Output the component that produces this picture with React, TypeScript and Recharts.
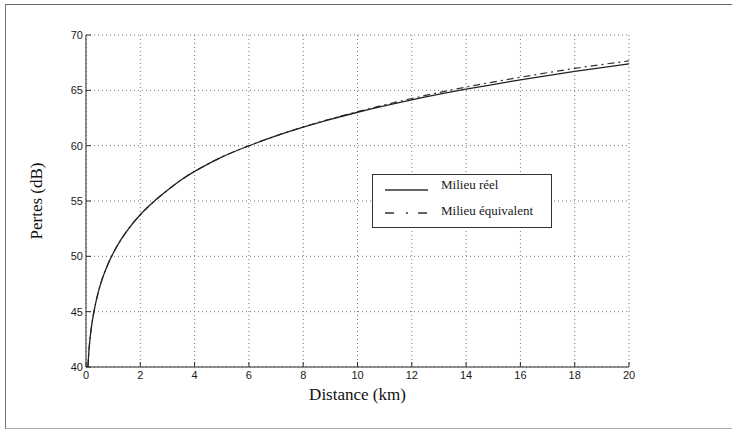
import React from 'react';
import { LineChart, Line, XAxis, YAxis, CartesianGrid, Legend } from 'recharts';

const distanceKm = [0.07, 0.1, 0.15, 0.2, 0.3, 0.45, 0.6, 0.8, 1, 1.3, 1.6, 2, 2.5, 3, 3.5, 4, 4.5, 5, 6, 7, 8, 9, 10, 12, 14, 16, 18, 20];
const lossReal = [40.0, 41.2, 42.6, 43.6, 45.1, 46.75, 47.98, 49.25, 50.28, 51.55, 52.6, 53.76, 54.95, 55.97, 56.9, 57.68, 58.35, 58.97, 59.99, 60.88, 61.67, 62.38, 63.02, 64.14, 65.1, 65.95, 66.71, 67.4];
const lossEquiv = [40.0, 41.2, 42.6, 43.6, 45.1, 46.75, 47.98, 49.25, 50.28, 51.55, 52.6, 53.76, 54.95, 55.97, 56.9, 57.68, 58.35, 58.97, 59.99, 60.89, 61.69, 62.41, 63.07, 64.26, 65.3, 66.18, 66.98, 67.66];
const xTicks = [0, 2, 4, 6, 8, 10, 12, 14, 16, 18, 20];
const yTicks = [40, 45, 50, 55, 60, 65, 70];
const seriesNames = ['Milieu réel', 'Milieu équivalent'];

const data = distanceKm.map((d, i) => ({ d, real: lossReal[i], equiv: lossEquiv[i] }));

const AXIS = '#2a2a2a';
const TICK_FONT = { fontFamily: '"Liberation Sans", Arial, sans-serif', fontSize: 11, fill: '#1a1a1a' };

const BottomTick = (p: any) => (
  <g>
    <line x1={p.x} x2={p.x} y1={p.y} y2={p.y - 5} stroke={AXIS} strokeWidth={1} />
    <text x={p.x} y={p.y + 12} textAnchor="middle" {...TICK_FONT}>{p.payload.value}</text>
  </g>
);
const TopTick = (p: any) => (
  <line x1={p.x} x2={p.x} y1={p.y} y2={p.y + 5} stroke={AXIS} strokeWidth={1} />
);
const LeftTick = (p: any) => (
  <g>
    <line x1={p.x} x2={p.x + 5} y1={p.y} y2={p.y} stroke={AXIS} strokeWidth={1} />
    <text x={p.x - 3} y={p.y + 4} textAnchor="end" {...TICK_FONT}>{p.payload.value}</text>
  </g>
);
const RightTick = (p: any) => (
  <line x1={p.x} x2={p.x - 5} y1={p.y} y2={p.y} stroke={AXIS} strokeWidth={1} />
);

const LegendBox = () => (
  <div
    style={{
      width: 180,
      height: 54,
      border: '1px solid #333',
      background: '#fff',
      boxSizing: 'border-box',
      fontFamily: '"Liberation Serif", "Times New Roman", serif',
      fontSize: 13,
      color: '#1a1a1a',
      position: 'relative',
    }}
  >
    <svg width={60} height={54} style={{ position: 'absolute', left: 0, top: 0 }}>
      <line x1={12} x2={55} y1={15} y2={15} stroke="#333" strokeWidth={1.3} />
      <line x1={12} x2={55} y1={38} y2={38} stroke="#333" strokeWidth={1.3} strokeDasharray="9 12 2 10" />
    </svg>
    <div style={{ position: 'absolute', left: 68, top: 2, whiteSpace: 'nowrap' }}>{seriesNames[0]}</div>
    <div style={{ position: 'absolute', left: 68, top: 28, whiteSpace: 'nowrap' }}>{seriesNames[1]}</div>
  </div>
);

const YTitle = (props: any) => {
  const vb = props.viewBox;
  return (
    <text
      x={vb.x - 4}
      y={vb.y + vb.height / 2}
      transform={`rotate(-90 ${vb.x - 4} ${vb.y + vb.height / 2})`}
      textAnchor="middle"
      fontFamily='"Liberation Serif", "Times New Roman", serif'
      fontSize={17}
      fill="#111"
    >
      Pertes (dB)
    </text>
  );
};

const XTitle = (props: any) => {
  const vb = props.viewBox;
  return (
    <text
      x={vb.x + vb.width / 2}
      y={vb.y + 33}
      textAnchor="middle"
      fontFamily='"Liberation Serif", "Times New Roman", serif'
      fontSize={17}
      fill="#111"
    >
      Distance (km)
    </text>
  );
};

export default function App() {
  return (
    <div style={{ position: 'absolute', left: 0, top: 0, width: 732, height: 430, background: '#fff' }}>
      <div
        style={{
          position: 'absolute',
          left: 5,
          top: 4,
          width: 740,
          height: 423,
          borderLeft: '1px solid #777',
          borderTop: '1px solid #666',
          borderBottom: '1px solid #aaa',
        }}
      />
      <LineChart
        width={732}
        height={430}
        data={data}
        margin={{ top: 35, right: 103, bottom: 33, left: 46 }}
        style={{ position: 'absolute', left: 0, top: 0 }}
      >
        <CartesianGrid stroke="#777" strokeDasharray="1 3" strokeWidth={1} />
        <XAxis
          dataKey="d"
          type="number"
          domain={[0, 20]}
          ticks={xTicks}
          height={30}
          tickSize={0}
          tickMargin={0}
          stroke={AXIS}
          tick={<BottomTick />}
          interval={0}
          label={<XTitle />}
        />
        <XAxis
          xAxisId="top"
          orientation="top"
          dataKey="d"
          type="number"
          domain={[0, 20]}
          ticks={xTicks}
          height={0}
          tickSize={0}
          tickMargin={0}
          stroke={AXIS}
          tick={<TopTick />}
          interval={0}
        />
        <YAxis
          type="number"
          domain={[40, 70]}
          ticks={yTicks}
          width={40}
          tickSize={0}
          tickMargin={0}
          stroke={AXIS}
          tick={<LeftTick />}
          interval={0}
          label={<YTitle />}
        />
        <YAxis
          yAxisId="right"
          orientation="right"
          type="number"
          domain={[40, 70]}
          ticks={yTicks}
          width={0}
          tickSize={0}
          tickMargin={0}
          stroke={AXIS}
          tick={<RightTick />}
          interval={0}
        />
        <Legend
          layout="horizontal"
          verticalAlign="middle"
          align="center"
          wrapperStyle={{ left: 372, top: 174, width: 180, height: 54 }}
          content={<LegendBox />}
        />
        <Line
          type="monotone"
          dataKey="equiv"
          name={seriesNames[1]}
          stroke="#333"
          strokeWidth={1.2}
          strokeDasharray="7 4 2 4"
          dot={false}
          isAnimationActive={false}
        />
        <Line
          type="monotone"
          dataKey="real"
          name={seriesNames[0]}
          stroke="#222"
          strokeWidth={1.3}
          dot={false}
          isAnimationActive={false}
        />
      </LineChart>
    </div>
  );
}
